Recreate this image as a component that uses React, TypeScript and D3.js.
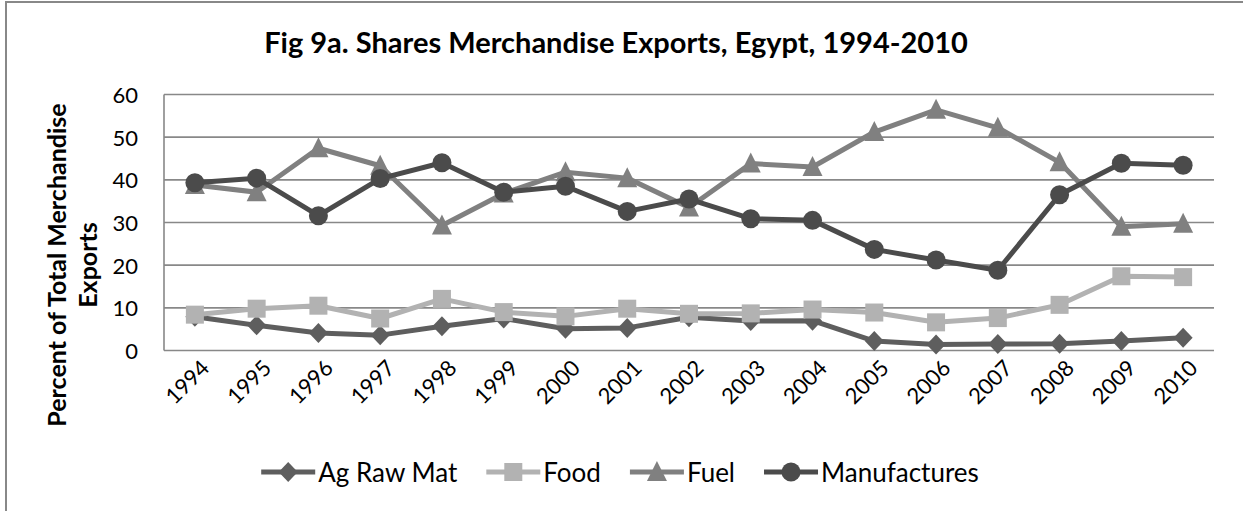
import { useEffect, useRef } from 'react';
import * as d3 from 'd3';

const years = ['1994', '1995', '1996', '1997', '1998', '1999', '2000', '2001', '2002',
  '2003', '2004', '2005', '2006', '2007', '2008', '2009', '2010'];
const agRawMat = [7.9, 5.9, 4.1, 3.6, 5.7, 7.5, 5.1, 5.3, 7.8, 6.9, 7.0, 2.2, 1.4, 1.5, 1.6, 2.2, 3.0];
const food = [8.4, 9.8, 10.5, 7.5, 12.1, 9.0, 8.0, 9.8, 8.6, 8.7, 9.6, 8.9, 6.6, 7.6, 10.7, 17.4, 17.2];
const fuel = [38.8, 37.1, 47.4, 43.3, 29.3, 36.8, 41.8, 40.4, 33.5, 43.8, 43.0, 51.2, 56.4, 52.2, 44.1, 29.0, 29.7];
const manufactures = [39.3, 40.4, 31.6, 40.3, 44.0, 37.1, 38.5, 32.6, 35.5, 30.9, 30.5, 23.7, 21.2, 18.8, 36.5, 43.9, 43.4];
const yTicks = [0, 10, 20, 30, 40, 50, 60];

const series = [
  { name: 'Ag Raw Mat', values: agRawMat, color: '#5e5e5e', marker: 'diamond' },
  { name: 'Food', values: food, color: '#b2b2b2', marker: 'square' },
  { name: 'Fuel', values: fuel, color: '#808080', marker: 'triangle' },
  { name: 'Manufactures', values: manufactures, color: '#4b4b4b', marker: 'circle' },
];

const FONT = 'Lato, "Open Sans", sans-serif';

function drawMarker(g: d3.Selection<SVGGElement, unknown, null, undefined>, kind: string, x: number, y: number, color: string) {
  if (kind === 'circle') {
    g.append('circle').attr('cx', x).attr('cy', y).attr('r', 9.5).attr('fill', color);
  } else if (kind === 'square') {
    g.append('rect').attr('x', x - 9).attr('y', y - 9).attr('width', 18).attr('height', 18).attr('fill', color);
  } else if (kind === 'triangle') {
    g.append('path').attr('d', `M${x},${y - 11}L${x + 10},${y + 9}L${x - 10},${y + 9}Z`).attr('fill', color);
  } else {
    g.append('path').attr('d', `M${x},${y - 10}L${x + 9.5},${y}L${x},${y + 10}L${x - 9.5},${y}Z`).attr('fill', color);
  }
}

export default function App() {
  const svgRef = useRef<SVGSVGElement>(null);

  useEffect(() => {
    if (!svgRef.current) return;
    const svg = d3.select(svgRef.current);
    svg.selectAll('*').remove();

    const left = 164, right = 1214, top = 94.5, bottom = 350.5;
    const centerX = 620;

    // chart border (runs off the right and bottom edge)
    svg.append('rect')
      .attr('x', 6).attr('y', 2)
      .attr('width', 1300).attr('height', 600)
      .attr('fill', '#fff')
      .attr('stroke', '#888').attr('stroke-width', 2);

    const x = d3.scalePoint<string>().domain(years).range([left, right]).padding(0.5);
    const y = d3.scaleLinear().domain([0, 60]).range([bottom, top]);

    // gridlines
    svg.append('g')
      .selectAll('line')
      .data(yTicks)
      .join('line')
      .attr('x1', left).attr('x2', right)
      .attr('y1', d => y(d)).attr('y2', d => y(d))
      .attr('stroke', '#888').attr('stroke-width', 1.6);

    svg.append('line')
      .attr('x1', left).attr('x2', left)
      .attr('y1', top).attr('y2', bottom)
      .attr('stroke', '#888').attr('stroke-width', 1.6);

    // y tick labels
    svg.append('g')
      .selectAll('text')
      .data(yTicks)
      .join('text')
      .attr('x', 138)
      .attr('y', d => y(d))
      .attr('text-anchor', 'end')
      .attr('dominant-baseline', 'central')
      .style('font-family', FONT)
      .style('font-size', '22px')
      .style('fill', '#000')
      .text(d => d);

    // x tick labels
    svg.append('g')
      .selectAll('text')
      .data(years)
      .join('text')
      .attr('transform', d => `translate(${(x(d) ?? 0) + 10},${bottom + 13}) rotate(-45)`)
      .attr('text-anchor', 'end')
      .attr('dominant-baseline', 'central')
      .style('font-family', FONT)
      .style('font-size', '22px')
      .style('fill', '#000')
      .text(d => d);

    // title
    svg.append('text')
      .attr('x', 616).attr('y', 53)
      .attr('text-anchor', 'middle')
      .style('font-family', FONT)
      .style('font-weight', '700')
      .style('font-size', '29px')
      .text('Fig 9a. Shares Merchandise Exports, Egypt, 1994-2010');

    // y axis title
    const yTitle = svg.append('text')
      .attr('transform', 'translate(0,265) rotate(-90)')
      .attr('text-anchor', 'middle')
      .style('font-family', FONT)
      .style('font-weight', '700')
      .style('font-size', '25px');
    yTitle.append('tspan').attr('x', 0).attr('y', 66).text('Percent of Total Merchandise');
    yTitle.append('tspan').attr('x', 0).attr('y', 97).text('Exports');

    // lines + markers
    const line = d3.line<number>()
      .x((_, i) => x(years[i]) ?? 0)
      .y(d => y(d));

    series.forEach(s => {
      const g = svg.append('g');
      g.append('path')
        .datum(s.values)
        .attr('d', line)
        .attr('fill', 'none')
        .attr('stroke', s.color)
        .attr('stroke-width', 5)
        .attr('stroke-linejoin', 'round');
      s.values.forEach((v, i) => drawMarker(g, s.marker, x(years[i]) ?? 0, y(v), s.color));
    });

    // legend, centred under the chart
    const legendY = 472;
    const legend = svg.append('g');
    const items = series.map(s => {
      const item = legend.append('g');
      item.append('line')
        .attr('x1', 0).attr('x2', 54)
        .attr('y1', legendY).attr('y2', legendY)
        .attr('stroke', s.color).attr('stroke-width', 5);
      drawMarker(item, s.marker, 27, legendY, s.color);
      const t = item.append('text')
        .attr('x', 57).attr('y', legendY)
        .attr('dominant-baseline', 'central')
        .style('font-family', FONT)
        .style('font-size', '26px')
        .text(s.name);
      const w = 57 + (t.node() as SVGTextElement).getComputedTextLength();
      return { item, w };
    });
    const gap = 29;
    const total = d3.sum(items, d => d.w) + gap * (items.length - 1);
    let cx = centerX - total / 2;
    items.forEach(d => {
      d.item.attr('transform', `translate(${cx},0)`);
      cx += d.w + gap;
    });
  }, []);

  return (
    <svg ref={svgRef} width={1243} height={511}
      style={{ position: 'absolute', left: 0, top: 0, background: '#fff' }} />
  );
}
